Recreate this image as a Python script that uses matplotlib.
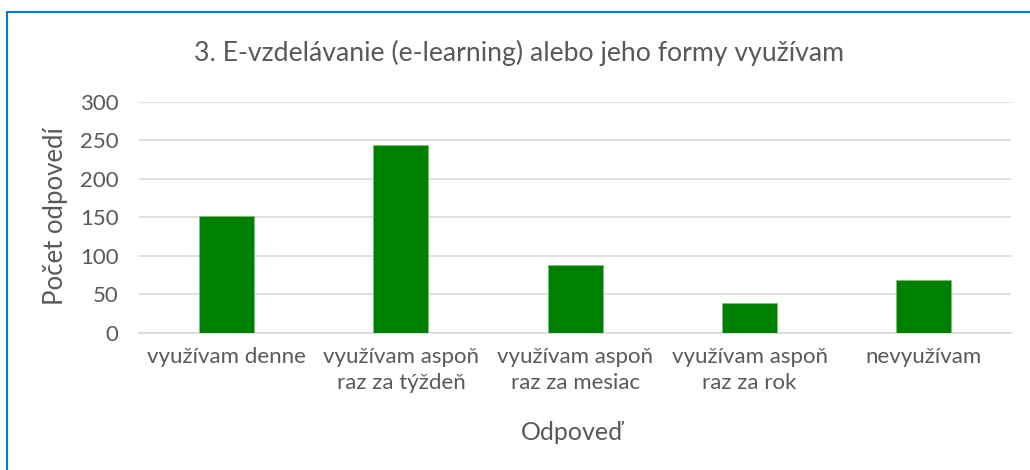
import matplotlib.pyplot as plt
from matplotlib.patches import Rectangle

categories = ["využívam denne", "využívam aspoň\nraz za týždeň", "využívam aspoň\nraz za mesiac",
              "využívam aspoň\nraz za rok", "nevyužívam"]
values = [152, 244, 88, 39, 69]
yticks = [0, 50, 100, 150, 200, 250, 300]

plt.rcParams['font.family'] = ['Lato', 'DejaVu Sans']
grey = '#595959'

fig = plt.figure(figsize=(10.3, 4.7), dpi=100)
ax = fig.add_axes([0.1354, 0.2921, 0.8462, 0.4915])

x = range(len(categories))
ax.bar(x, values, width=0.315, color='#008000', edgecolor='#7fbf7f', linewidth=0.6, zorder=3)

ax.set_xlim(-0.5, len(categories) - 0.5)
ax.set_ylim(0, 300)
ax.set_yticks(yticks)
ax.yaxis.grid(True, color='#d9d9d9', linewidth=1.2, zorder=0)
for s in ['top', 'right', 'left']:
    ax.spines[s].set_visible(False)
ax.spines['bottom'].set_color('#d9d9d9')
ax.spines['bottom'].set_linewidth(1.2)
ax.tick_params(axis='both', length=0, labelsize=16, colors=grey)
ax.tick_params(axis='y', pad=15)
ax.tick_params(axis='x', pad=10)
ax.set_xticks(list(x))
ax.set_xticklabels(categories, linespacing=1.4)

fig.text(55 / 1030, 1 - 216 / 470, "Počet odpovedí", rotation=90, ha='center', va='center',
         fontsize=18.5, color=grey)
fig.text(571.5 / 1030, 1 - 433 / 470, "Odpoveď", ha='center', va='center', fontsize=18, color=grey)
fig.text(518.5 / 1030, 1 - 53 / 470, "3. E-vzdelávanie (e-learning) alebo jeho formy využívam",
         ha='center', va='center', fontsize=19.2, color=grey)

fig.patches.append(Rectangle((6.5 / 1030, -0.1), 1.2, 1 - 12.3 / 470 + 0.1, transform=fig.transFigure,
                             fill=False, edgecolor='#0a78d2', linewidth=1.5))

fig.savefig("out.png", dpi=100)
